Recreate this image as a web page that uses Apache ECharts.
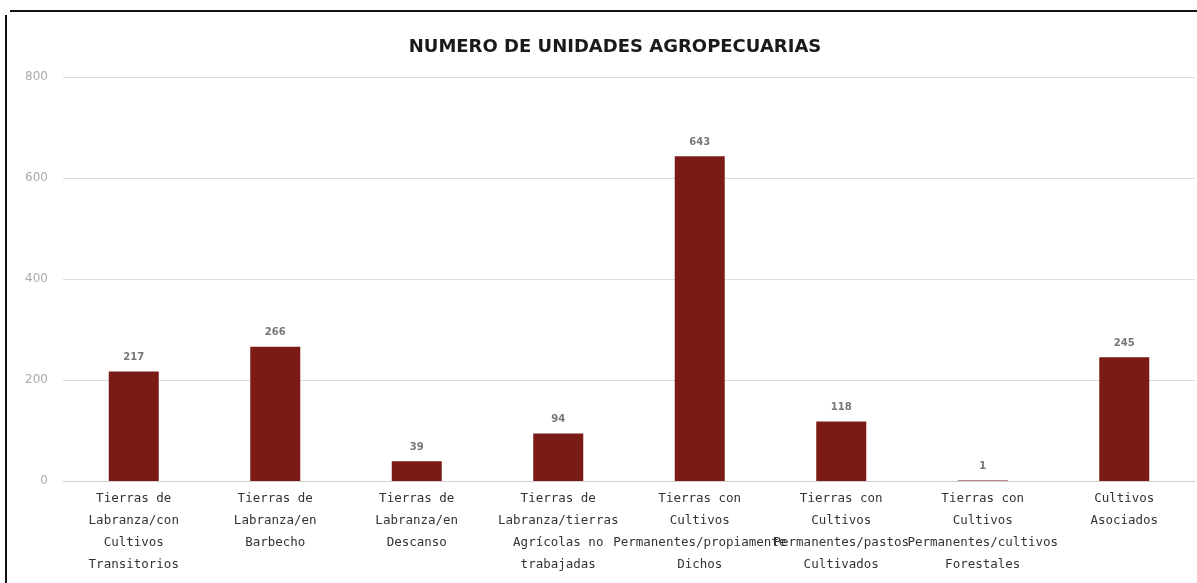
<!DOCTYPE html>
<html>
<head>
<meta charset="utf-8">
<script src="https://cdn.jsdelivr.net/npm/echarts@6/dist/echarts.min.js"></script>
<style>
html,body{margin:0;padding:0;background:#fff;}
#topline{position:absolute;left:10px;top:10px;width:1200px;height:2px;background:#111;}
#leftline{position:absolute;left:5px;top:15px;width:2px;height:600px;background:#111;}
#chart{position:absolute;left:0;top:0;width:1197px;height:583px;}
</style>
</head>
<body>
<div id="topline"></div>
<div id="leftline"></div>
<div id="chart"></div>
<script>
var titleText = 'NUMERO DE UNIDADES AGROPECUARIAS';
var categories = [
  'Tierras de\nLabranza/con\nCultivos\nTransitorios',
  'Tierras de\nLabranza/en\nBarbecho',
  'Tierras de\nLabranza/en\nDescanso',
  'Tierras de\nLabranza/tierras\nAgrícolas no\ntrabajadas',
  'Tierras con\nCultivos\nPermanentes/propiamente\nDichos',
  'Tierras con\nCultivos\nPermanentes/pastos\nCultivados',
  'Tierras con\nCultivos\nPermanentes/cultivos\nForestales',
  'Cultivos\nAsociados'
];
var values = [217, 266, 39, 94, 643, 118, 1, 245];
var yTicks = [0, 200, 400, 600, 800];

var chart = echarts.init(document.getElementById('chart'), null, {renderer: 'canvas'});
chart.setOption({
  backgroundColor: 'transparent',
  animation: false,
  title: {
    text: titleText,
    left: 610, textAlign: 'center', top: 33,
    textStyle: {fontFamily: 'DejaVu Sans', fontSize: 18, fontWeight: 'bold', color: '#1a1a1a'}
  },
  grid: {left: 63, right: 2, top: 77, bottom: 102, containLabel: false},
  xAxis: {
    type: 'category',
    data: categories,
    axisLine: {show: true, lineStyle: {color: '#d0d0d0', width: 1}},
    axisTick: {show: false},
    axisLabel: {
      interval: 0, margin: 7, lineHeight: 22,
      fontFamily: 'DejaVu Sans Mono', fontSize: 12.5, color: '#333',
      overflow: 'none'
    }
  },
  yAxis: {
    type: 'value',
    min: yTicks[0], max: yTicks[yTicks.length - 1], interval: 200,
    axisLine: {show: false},
    axisTick: {show: false},
    axisLabel: {fontFamily: 'DejaVu Sans', fontSize: 12, color: '#aaa', margin: 15},
    splitLine: {lineStyle: {color: '#dcdcdc', width: 1}}
  },
  series: [{
    type: 'bar',
    data: values,
    barWidth: 50,
    itemStyle: {color: '#7b1b16'},
    label: {
      show: true, position: 'top', distance: 9,
      fontFamily: 'DejaVu Sans', fontSize: 10, fontWeight: 'bold', color: '#777'
    }
  }]
});
</script>
</body>
</html>
